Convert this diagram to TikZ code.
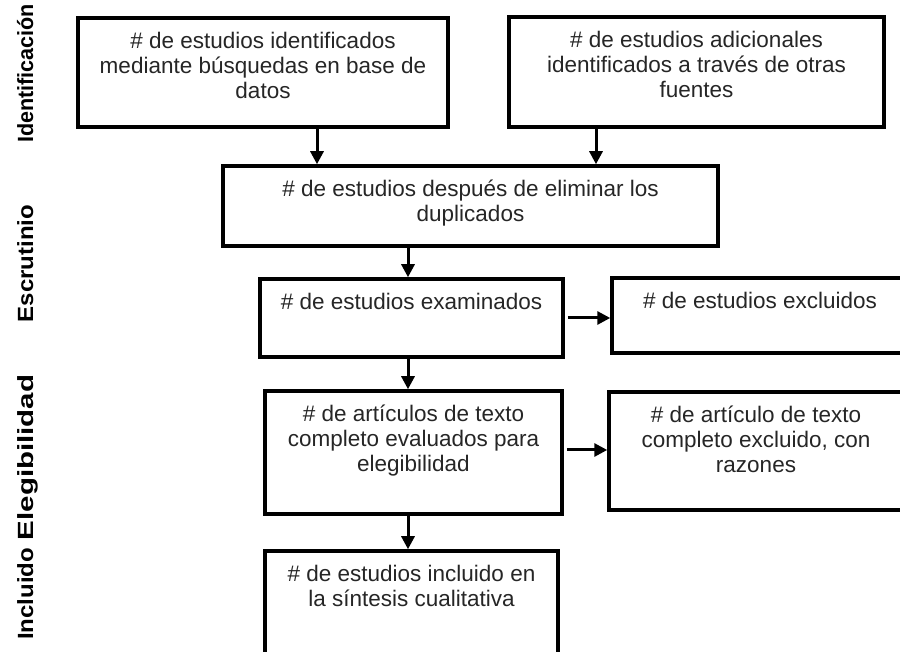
\documentclass[tikz,border=0pt]{standalone}
\usepackage{fontspec}
\setmainfont{Liberation Sans}
\usetikzlibrary{arrows.meta}
\definecolor{txt}{HTML}{262626}
\newcommand{\boxtext}[3]{\parbox[c][#2][t]{#1}{\centering\fontsize{22.5}{25}\selectfont\vspace*{11pt}\rule{0pt}{20pt}#3}}
\begin{document}
\begin{tikzpicture}[x=1pt,y=1pt,
  flowbox/.style={draw=black, line width=3.5pt, inner sep=0pt, text=txt},
  arr/.style={line width=3pt, -{Triangle[length=13pt,width=13pt]}},
  phase/.style={rotate=90, anchor=base, text=black, font=\bfseries\fontsize{22}{25}\selectfont}]
\useasboundingbox (0,0) rectangle (900,652);
\fill[white] (0,0) rectangle (900,652);
% boxes
\node[flowbox] (b1) at (263,579.5) {\boxtext{370pt}{109pt}{\# de estudios identificados\\ mediante búsquedas en base de\\ datos}};
\node[flowbox] (b2) at (696.5,580) {\boxtext{375pt}{110pt}{\# de estudios adicionales\\ identificados a través de otras\\ fuentes}};
\node[flowbox] (b3) at (470.5,446) {\boxtext{495pt}{80pt}{\# de estudios después de eliminar los\\ duplicados}};
\node[flowbox] (b4) at (411.5,334) {\boxtext{303pt}{78pt}{\# de estudios examinados}};
\node[flowbox] (b5) at (760,336.5) {\boxtext{296pt}{75pt}{\# de estudios excluidos}};
\node[flowbox] (b6) at (413.5,199.5) {\boxtext{297pt}{123pt}{\# de artículos de texto\\ completo evaluados para\\ elegibilidad}};
\node[flowbox] (b7) at (756,201) {\boxtext{294pt}{118pt}{\# de artículo de texto\\ completo excluido, con\\ razones}};
\node[flowbox] (b8) at (411.5,31.5) {\boxtext{293pt}{139pt}{\# de estudios incluido en\\ la síntesis cualitativa}};
% phase labels
\node[phase] (p1) at (33,578.5) {\scalebox{0.98}[1]{Identificación}};
\node[phase] (p2) at (33,388.5) {\scalebox{1.09}[1]{Escrutinio}};
\node[phase] (p3) at (33,194.5) {\scalebox{1.34}[1]{Elegibilidad}};
\node[phase] (p4) at (33,58) {\scalebox{1.09}[1]{Incluido}};
% arrows
\draw[arr] ([xshift=54pt]b1.south) -- ([xshift=54pt]b1.south |- b3.north);
\draw[arr] ([xshift=-100.5pt]b2.south) -- ([xshift=-100.5pt]b2.south |- b3.north);
\draw[arr] ([xshift=-62.5pt]b3.south) -- ([xshift=-62.5pt]b3.south |- b4.north);
\draw[arr] ([xshift=-3.5pt]b4.south) -- ([xshift=-3.5pt]b4.south |- b6.north);
\draw[arr] ([xshift=-5.5pt]b6.south) -- ([xshift=-5.5pt]b6.south |- b8.north);
\draw[arr] ([xshift=3pt]b4.east) -- (b4.east -| b5.west);
\draw[arr] ([xshift=3pt,yshift=2.5pt]b6.east) -- ([yshift=2.5pt]b6.east -| b7.west);
\end{tikzpicture}
\end{document}
